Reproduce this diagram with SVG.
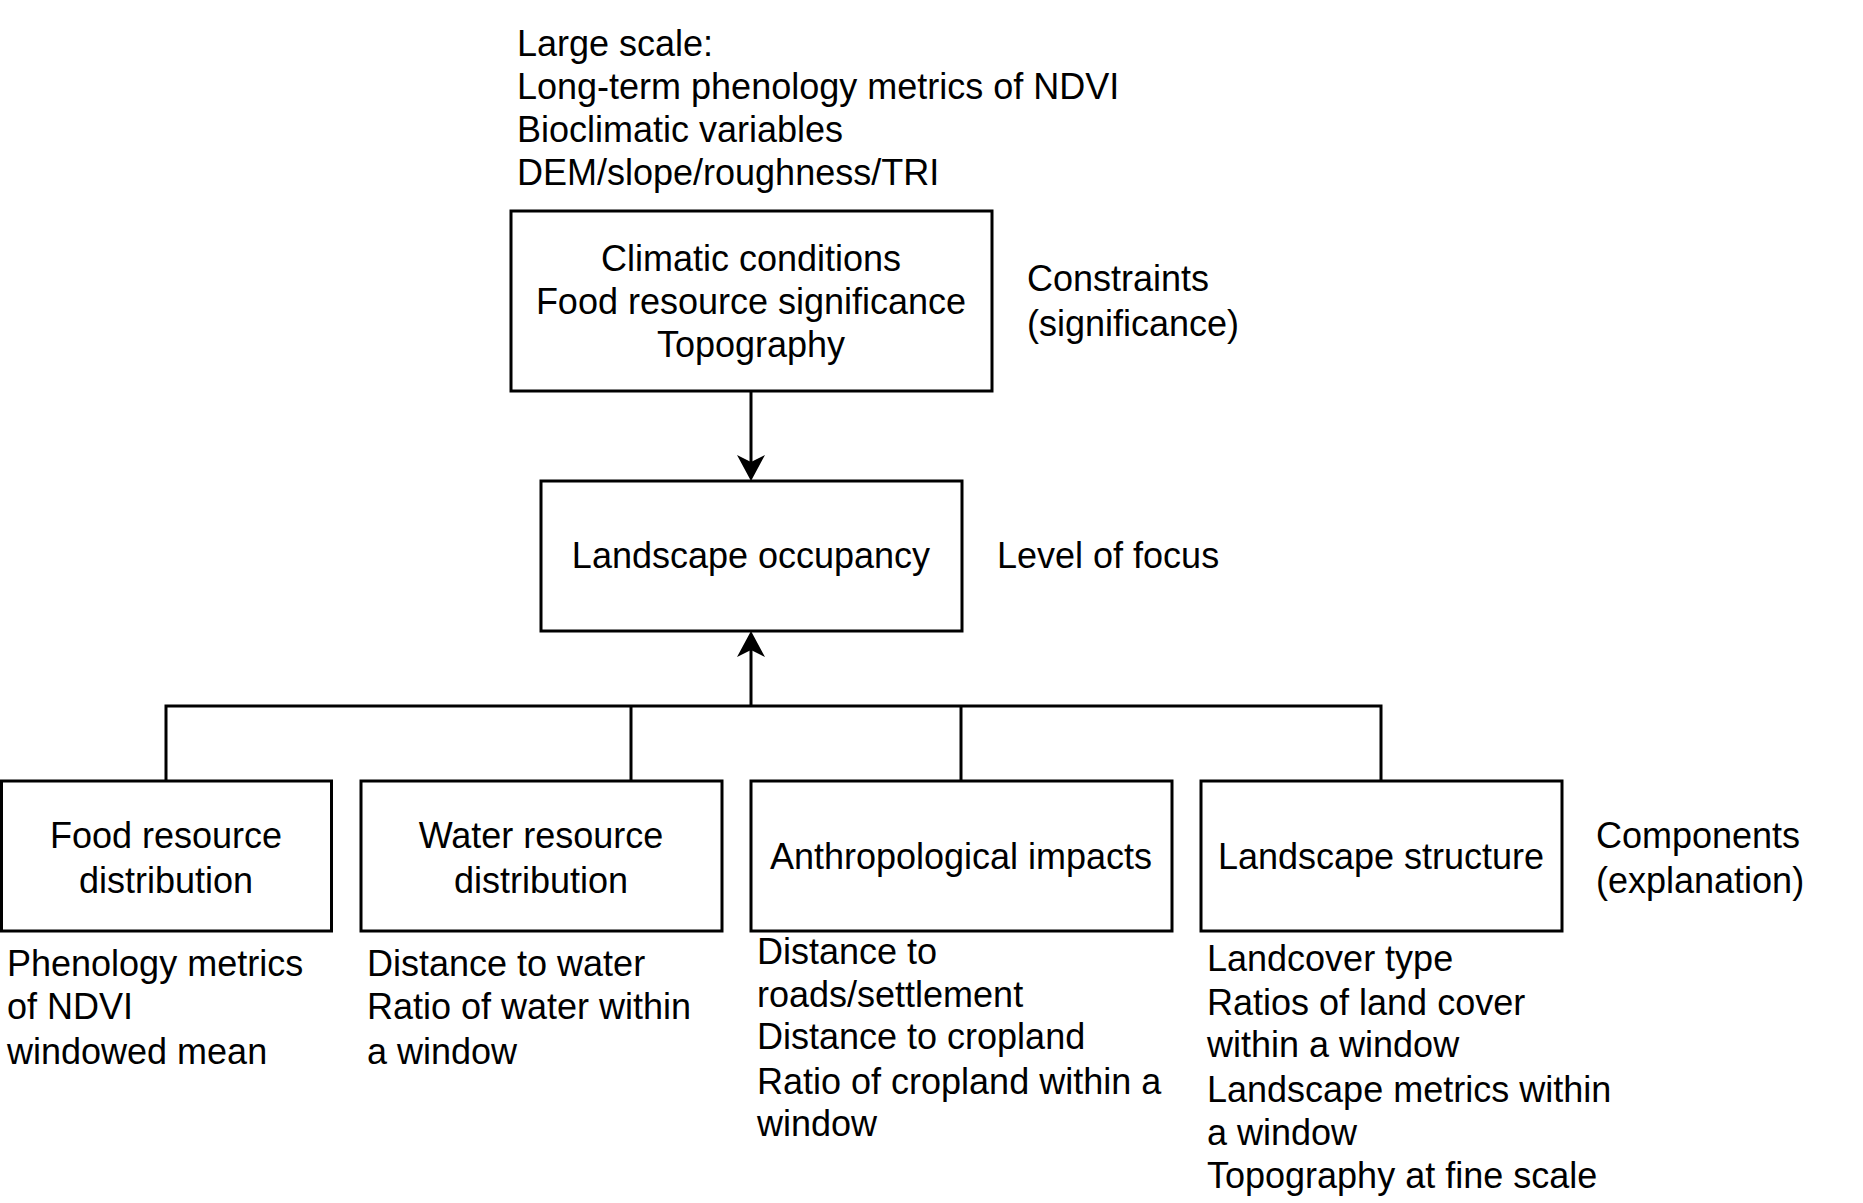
<svg xmlns="http://www.w3.org/2000/svg" width="1863" height="1203" viewBox="0 0 1863 1203">
<defs>
<style>
text{font-family:"Liberation Sans",Arial,Helvetica,sans-serif;font-size:36px;fill:#000}
.c{text-anchor:middle}
.box{fill:#fff;stroke:#000;stroke-width:3}
.edge{fill:none;stroke:#000;stroke-width:3}
</style>
<marker id="arr" viewBox="0 0 26 28" refX="16" refY="14" markerWidth="26" markerHeight="28" markerUnits="userSpaceOnUse" orient="auto">
<path d="M0,0 L26,14 L0,28 L7,14 Z" fill="#000"/>
</marker>
</defs>
<rect width="1863" height="1203" fill="#fff"/>
<g id="connectors">
<path class="edge" d="M751,392 V471" marker-end="url(#arr)"/>
<path class="edge" d="M751,706 V641" marker-end="url(#arr)"/>
<path class="edge" d="M166,781 V706 H1381 V781"/>
<path class="edge" d="M631,781 V706"/>
<path class="edge" d="M961,781 V706"/>
</g>
<g id="large-scale-label">
<text x="517" y="56">Large scale:</text>
<text x="517" y="99">Long-term phenology metrics of NDVI</text>
<text x="517" y="142">Bioclimatic variables</text>
<text x="517" y="185">DEM/slope/roughness/TRI</text>
</g>
<g id="constraints-node">
<rect class="box" x="511" y="211" width="481" height="180"/>
<text class="c" x="751" y="271">Climatic conditions</text>
<text class="c" x="751" y="314">Food resource significance</text>
<text class="c" x="751" y="357">Topography</text>
</g>
<g id="constraints-label">
<text x="1027" y="291">Constraints</text>
<text x="1027" y="336">(significance)</text>
</g>
<g id="occupancy-node">
<rect class="box" x="541" y="481" width="421" height="150"/>
<text class="c" x="751" y="568">Landscape occupancy</text>
</g>
<g id="focus-label">
<text x="997" y="568">Level of focus</text>
</g>
<g id="food-node">
<rect class="box" x="1.5" y="781" width="330" height="150"/>
<text class="c" x="166" y="848">Food resource</text>
<text class="c" x="166" y="893">distribution</text>
</g>
<g id="water-node">
<rect class="box" x="361" y="781" width="361" height="150"/>
<text class="c" x="541" y="848">Water resource</text>
<text class="c" x="541" y="893">distribution</text>
</g>
<g id="anthro-node">
<rect class="box" x="751" y="781" width="421" height="150"/>
<text class="c" x="961" y="869">Anthropological impacts</text>
</g>
<g id="structure-node">
<rect class="box" x="1201" y="781" width="361" height="150"/>
<text class="c" x="1381" y="869">Landscape structure</text>
</g>
<g id="components-label">
<text x="1596" y="848">Components</text>
<text x="1596" y="893">(explanation)</text>
</g>
<g id="food-details">
<text x="7" y="976">Phenology metrics</text>
<text x="7" y="1019">of NDVI</text>
<text x="7" y="1064">windowed mean</text>
</g>
<g id="water-details">
<text x="367" y="976">Distance to water</text>
<text x="367" y="1019">Ratio of water within</text>
<text x="367" y="1064">a window</text>
</g>
<g id="anthro-details">
<text x="757" y="964">Distance to</text>
<text x="757" y="1007">roads/settlement</text>
<text x="757" y="1049">Distance to cropland</text>
<text x="757" y="1094">Ratio of cropland within a</text>
<text x="757" y="1136">window</text>
</g>
<g id="structure-details">
<text x="1207" y="971">Landcover type</text>
<text x="1207" y="1015">Ratios of land cover</text>
<text x="1207" y="1057">within a window</text>
<text x="1207" y="1102">Landscape metrics within</text>
<text x="1207" y="1145">a window</text>
<text x="1207" y="1188">Topography at fine scale</text>
</g>
</svg>
